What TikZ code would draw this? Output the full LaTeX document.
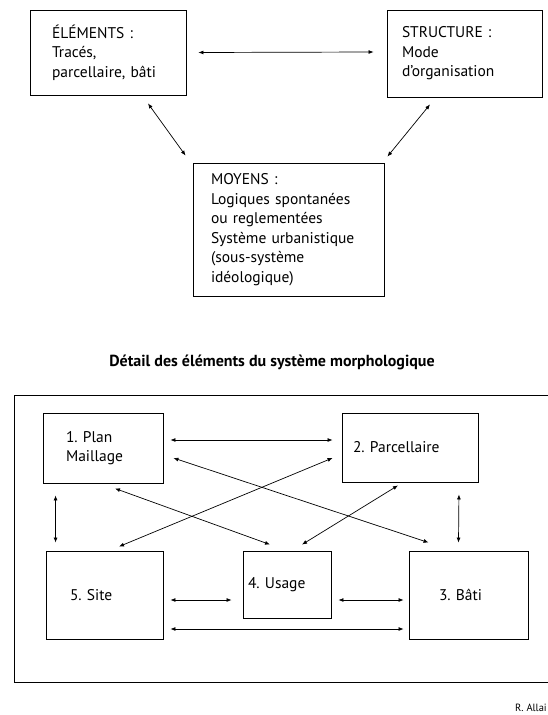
\documentclass[tikz,border=0pt]{standalone}
\usepackage{fontspec}
\setmainfont{PT Sans}
\usetikzlibrary{arrows.meta}

\tikzset{
    boite/.style={draw, line width=0.9pt, inner sep=0pt, align=left,
        font=\fontsize{15.5pt}{19.5pt}\selectfont},
    fleche/.style={{Latex[length=5pt,width=4pt]}-{Latex[length=5pt,width=4pt]}, line width=0.7pt}
}

\begin{document}
\frenchspacing
\begin{tikzpicture}[x=1pt,y=-1pt]
        \useasboundingbox (0,0) rectangle (548,715);

        % Upper scheme
        \node[boite, minimum width=156pt, minimum height=85pt, text width=112pt] (elem) at (108,52.5)
            {ÉLÉMENTS :\\Tracés,\\parcellaire, bâti};
        \node[boite, minimum width=155pt, minimum height=87pt, text width=125pt] (struct) at (464.5,53.5)
            {STRUCTURE :\\Mode\\d’organisation};
        \node[boite, minimum width=191pt, minimum height=133pt, text width=155pt] (moyens) at (288.5,229.5)
            {MOYENS :\\Logiques spontanées\\ou reglementées\\Système urbanistique\\(sous-système\\idéologique)};

        \draw[fleche] ([xshift=12pt]elem.east) -- ([xshift=-13pt,yshift=1.5pt]struct.west);
        \draw[fleche] ([xshift=40pt,yshift=-8pt]elem.south) -- ([xshift=-7pt,yshift=7pt]moyens.north west);
        \draw[fleche] ([xshift=-34.5pt,yshift=-7pt]struct.south) -- ([xshift=3pt,yshift=6pt]moyens.north east);

        % Title
        \node[font=\fontsize{16pt}{18pt}\selectfont\bfseries] (titre) at (272,362)
            {Détail des éléments du système morphologique};

        % Lower scheme
        \draw[line width=0.9pt] (14,395) rectangle (552,682);

        \node[boite, minimum width=120pt, minimum height=70pt, text width=74pt] (plan) at (103,448)
            {1. Plan\\Maillage};
        \node[boite, minimum width=136pt, minimum height=69pt, text width=114pt] (parc) at (410,447.5)
            {2. Parcellaire};
        \node[boite, minimum width=119pt, minimum height=88pt, text width=59pt] (bati) at (468.5,595)
            {3. Bâti};
        \node[boite, minimum width=88pt, minimum height=67pt, text width=78pt] (usage) at (287,584.5)
            {4. Usage};
        \node[boite, minimum width=117pt, minimum height=88pt, text width=69pt] (site) at (104.5,595)
            {5. Site};

        \draw[fleche] ([xshift=7pt,yshift=8pt]plan.east) -- ([xshift=-9pt,yshift=7.5pt]parc.west);
        \draw[fleche] ([xshift=10pt,yshift=-10pt]plan.east) -- ([xshift=20pt,yshift=8pt]bati.north west);
        \draw[fleche] ([xshift=-9pt,yshift=-10.5pt]parc.west) -- ([xshift=14.5pt,yshift=4pt]site.north);
        \draw[fleche] ([xshift=12pt,yshift=-5pt]plan.south) -- ([xshift=-17pt,yshift=6pt]usage.north);
        \draw[fleche] ([xshift=-12pt,yshift=-3pt]parc.south) -- ([xshift=15pt,yshift=6pt]usage.north);
        \draw[fleche] ([xshift=13pt,yshift=-12pt]plan.south west) -- ([xshift=10pt,yshift=8pt]site.north west);
        \draw[fleche] ([xshift=-19.5pt,yshift=-12pt]parc.south east) -- ([xshift=-10pt,yshift=8pt]bati.north);
        \draw[fleche] ([xshift=7pt,yshift=-5pt]site.east) -- ([xshift=-11pt,yshift=-15.5pt]usage.west);
        \draw[fleche] ([xshift=7pt,yshift=-15.5pt]usage.east) -- ([xshift=-5pt,yshift=-5pt]bati.west);
        \draw[fleche] ([xshift=7pt,yshift=-34pt]site.east) -- ([xshift=-5pt,yshift=-34pt]bati.west);

        % Credit
        \node[anchor=base east, font=\fontsize{10.5pt}{12pt}\selectfont, inner sep=0pt] (auteur) at (547,711)
            {R. Allai};
\end{tikzpicture}
\end{document}
